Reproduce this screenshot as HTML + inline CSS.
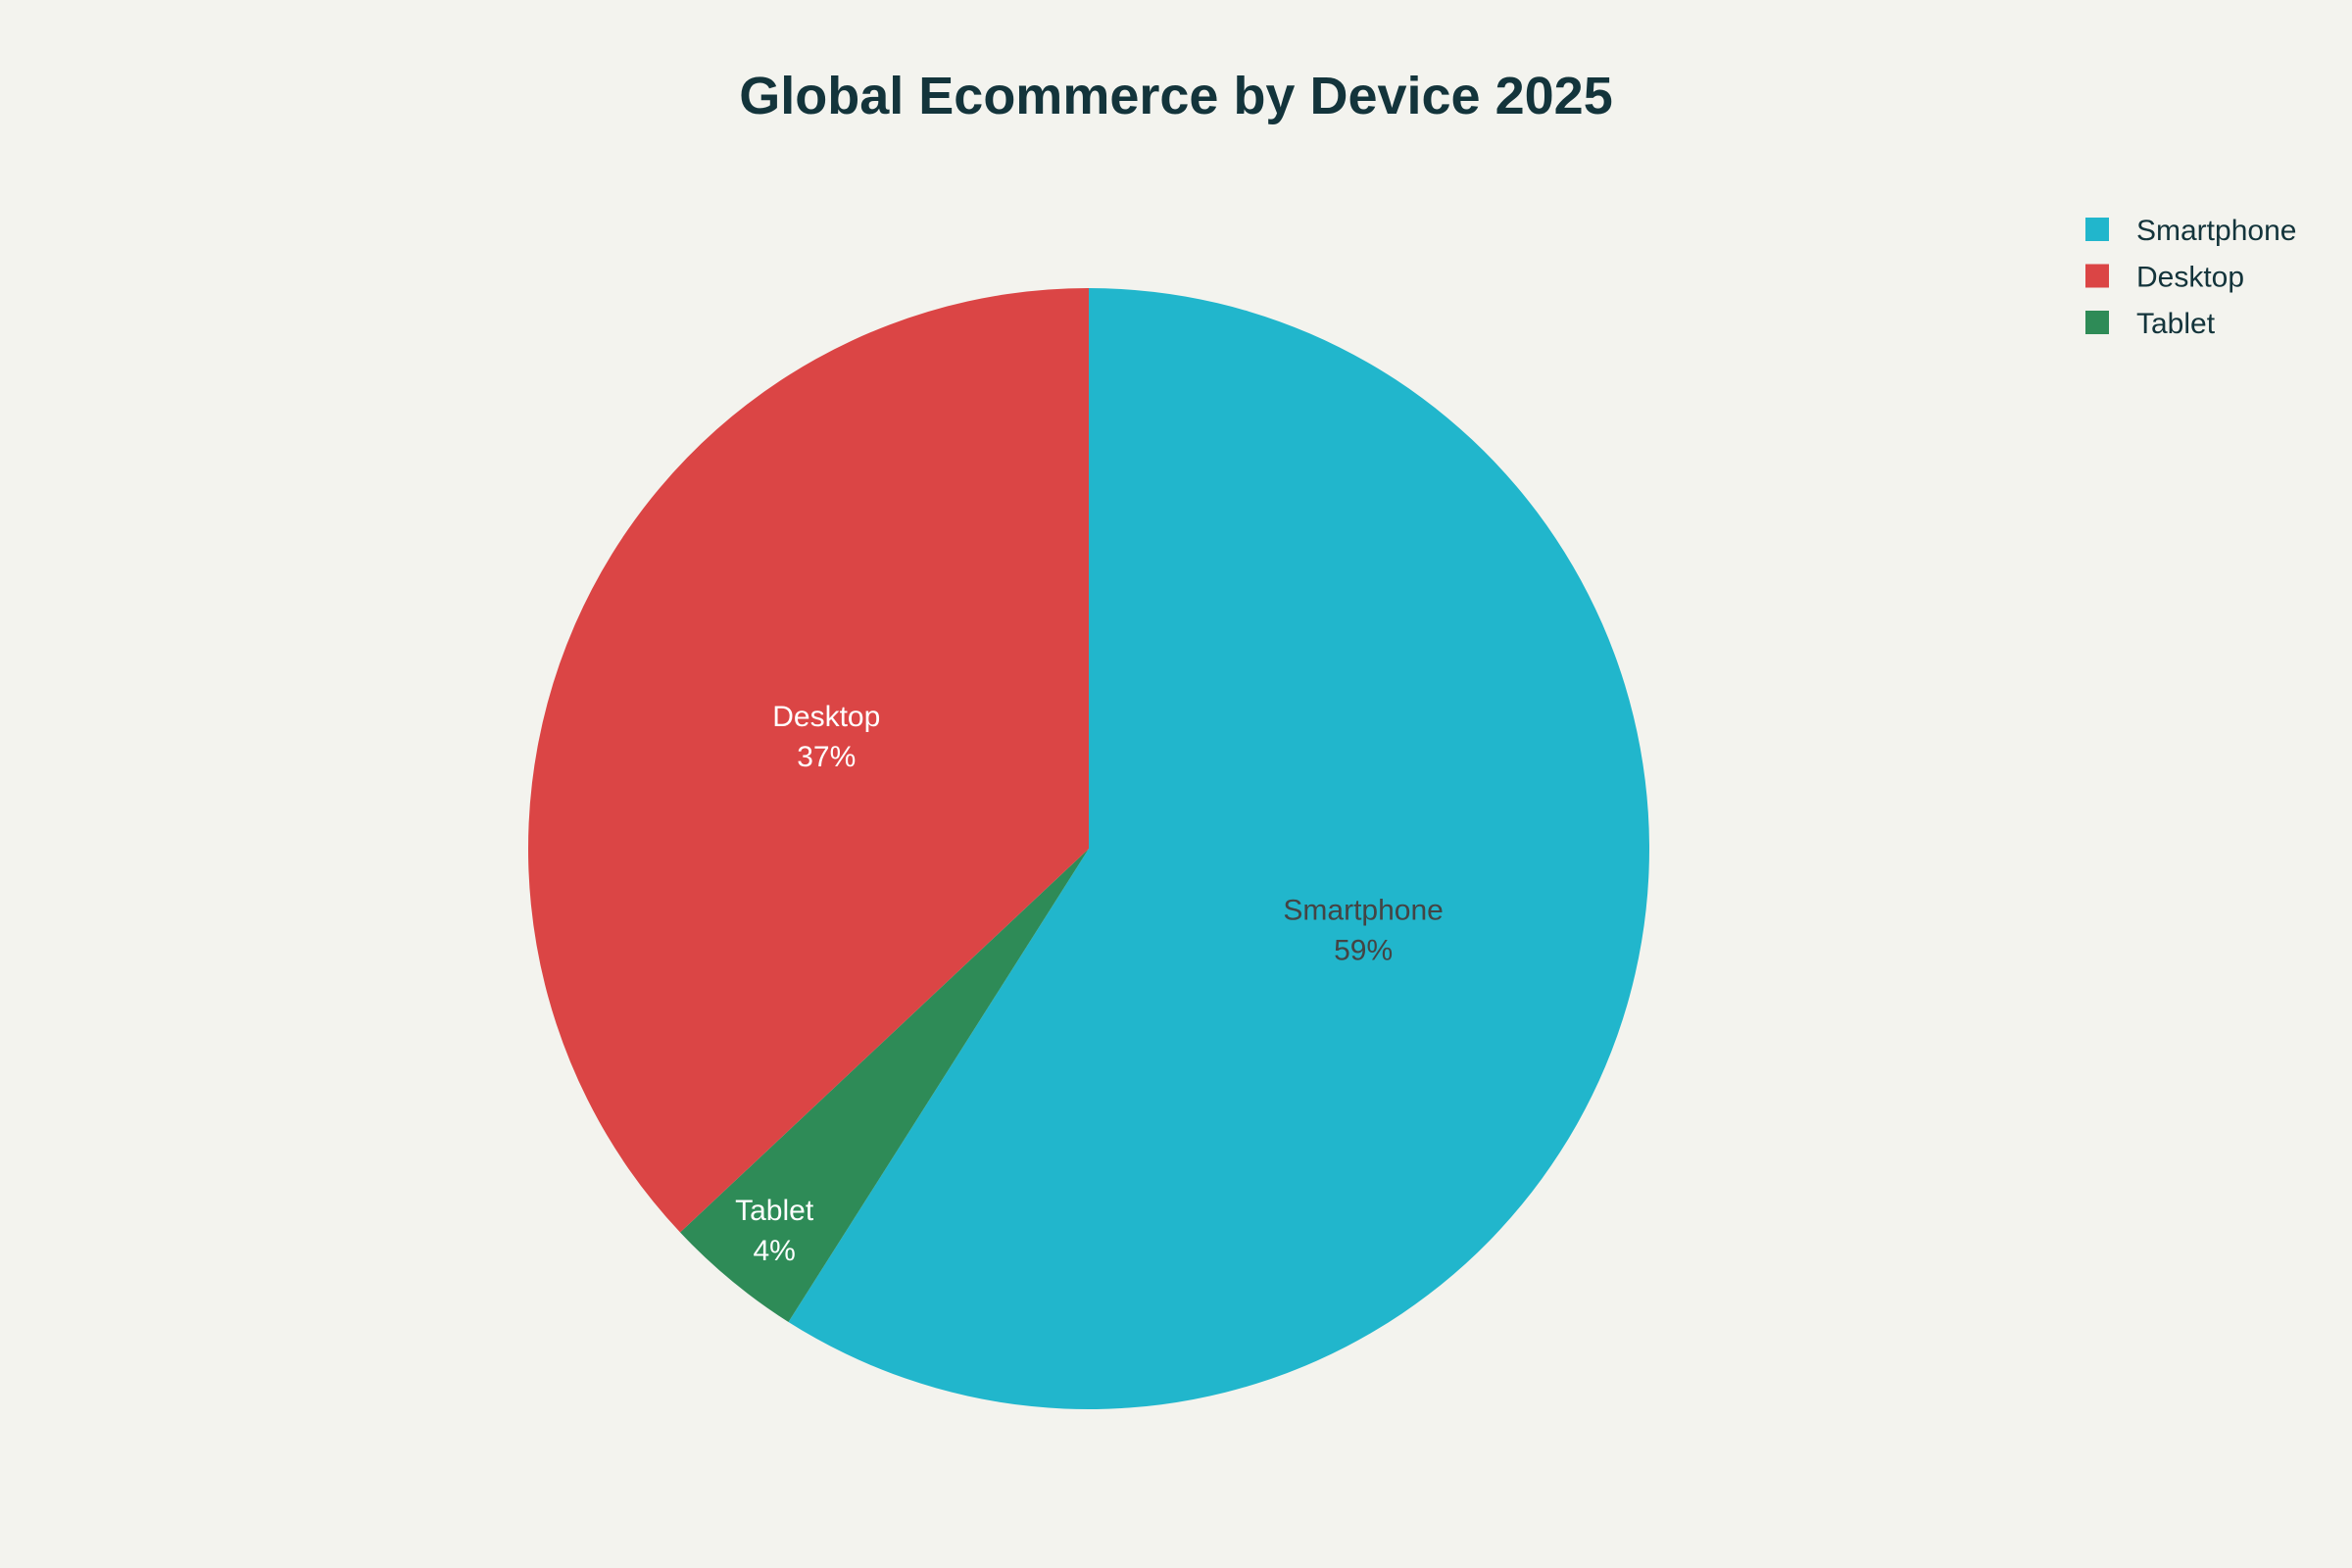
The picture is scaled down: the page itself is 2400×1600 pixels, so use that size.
<!DOCTYPE html>
<html><head><meta charset="utf-8"><style>
body{margin:0;background:#F3F3EE;}
svg{display:block;font-family:"Liberation Sans",sans-serif;}
</style></head><body>
<svg id="chart" width="2400" height="1600" viewBox="0 0 2400 1600">
<rect width="2400" height="1600" fill="#F3F3EE"/>
<text x="1200" y="116" text-anchor="middle" font-size="54" font-weight="bold" fill="#13343B">Global Ecommerce by Device 2025</text>
<g id="slices"></g>
<g id="legend"></g>
</svg>
<script>
const categories = ["Smartphone", "Tablet", "Desktop"];
const values = [59, 4, 37];
const legendOrder = ["Smartphone", "Desktop", "Tablet"];
const colorMap = {Smartphone:"#21B6CC", Desktop:"#DB4545", Tablet:"#2E8B57"};
const labelColor = {Smartphone:"#444444", Desktop:"#FFFFFF", Tablet:"#FFFFFF"};
const NS="http://www.w3.org/2000/svg";
const cx=1111, cy=866, R=572;
const total=values.reduce((a,b)=>a+b,0);
const g=document.getElementById('slices');
function pt(a,r){return [cx+r*Math.sin(a), cy-r*Math.cos(a)];}
let acc=0;
categories.forEach((c,i)=>{
  const a0=acc/total*2*Math.PI; acc+=values[i]; const a1=acc/total*2*Math.PI;
  const p0=pt(a0,R), p1=pt(a1,R);
  const large=(a1-a0)>Math.PI?1:0;
  const path=document.createElementNS(NS,'path');
  path.setAttribute('d',`M${cx},${cy} L${p0[0]},${p0[1]} A${R},${R} 0 ${large} 1 ${p1[0]},${p1[1]} Z`);
  path.setAttribute('fill',colorMap[c]);
  
  
  g.appendChild(path);
  const frac=values[i]/total;
  const am=(a0+a1)/2, lr=frac<0.1?R*0.88:R*0.51;
  const lp=pt(am,lr);
  const t=document.createElementNS(NS,'text');
  t.setAttribute('x',lp[0]); t.setAttribute('text-anchor','middle');
  t.setAttribute('font-size','30'); t.setAttribute('fill',labelColor[c]);
  
  
  const s1=document.createElementNS(NS,'tspan'); s1.setAttribute('x',lp[0]); s1.setAttribute('y',lp[1]-9); s1.textContent=c;
  const s2=document.createElementNS(NS,'tspan'); s2.setAttribute('x',lp[0]); s2.setAttribute('y',lp[1]+32); s2.textContent=Math.round(frac*100)+'%';
  t.appendChild(s1); t.appendChild(s2); g.appendChild(t);
});
const lg=document.getElementById('legend');
legendOrder.forEach((c,i)=>{
  const y=222+i*47.5;
  const r=document.createElementNS(NS,'rect');
  r.setAttribute('x',2128); r.setAttribute('y',y); r.setAttribute('width',24); r.setAttribute('height',24);
  r.setAttribute('fill',colorMap[c]);
  
  
  lg.appendChild(r);
  const t=document.createElementNS(NS,'text');
  t.setAttribute('x',2180); t.setAttribute('y',y+23); t.setAttribute('font-size','30'); t.setAttribute('fill','#13343B');
  t.textContent=c;
  
  
  lg.appendChild(t);
});
</script>
</body></html>
